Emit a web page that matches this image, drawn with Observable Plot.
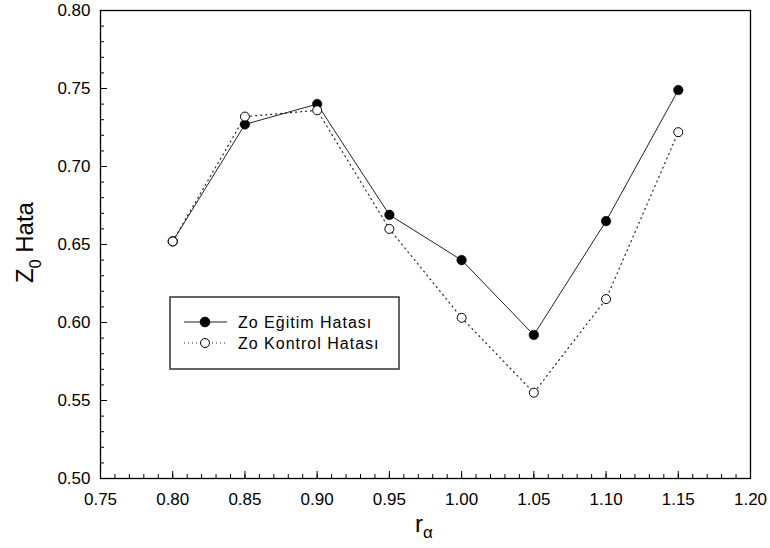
<!DOCTYPE html>
<html>
<head>
<meta charset="utf-8">
<script src="https://cdn.jsdelivr.net/npm/d3@7"></script>
<script src="https://cdn.jsdelivr.net/npm/@observablehq/plot@0.6"></script>
<style>
  body { margin: 0; background: #fff; }
  #chart svg { display: block; }
</style>
</head>
<body>
<div id="chart"></div>
<script>
const rAlpha = [0.80, 0.85, 0.90, 0.95, 1.00, 1.05, 1.10, 1.15];
const egitimHata = [0.652, 0.727, 0.740, 0.669, 0.640, 0.592, 0.665, 0.749];
const kontrolHata = [0.652, 0.732, 0.736, 0.660, 0.603, 0.555, 0.615, 0.722];
const xTicks = [0.75, 0.80, 0.85, 0.90, 0.95, 1.00, 1.05, 1.10, 1.15, 1.20];
const yTicks = [0.50, 0.55, 0.60, 0.65, 0.70, 0.75, 0.80];
const seriesNames = ["Zo Eğitim Hatası", "Zo Kontrol Hatası"];

const egitim = rAlpha.map((x, i) => ({x, y: egitimHata[i]}));
const kontrol = rAlpha.map((x, i) => ({x, y: kontrolHata[i]}));
const xMinor = d3.range(0, 46).map(i => +(0.75 + i * 0.01).toFixed(2));
const yMinor = d3.range(0, 31).map(i => +(0.50 + i * 0.01).toFixed(2));

const svg = Plot.plot({
  width: 770,
  height: 548,
  marginLeft: 100,
  marginRight: 20,
  marginTop: 10,
  marginBottom: 70,
  style: {fontFamily: "'Liberation Sans', Arial, sans-serif", fontSize: "17px", color: "#000", background: "#fff"},
  x: {domain: [0.75, 1.20]},
  y: {domain: [0.50, 0.80]},
  marks: [
    Plot.axisX({ticks: xMinor, tickSize: -4, text: null, label: null, stroke: "#000"}),
    Plot.axisY({ticks: yMinor, tickSize: -4, text: null, label: null, stroke: "#000"}),
    Plot.axisX({ticks: xTicks, tickSize: -7, text: null, label: null, stroke: "#000"}),
    Plot.axisY({ticks: yTicks, tickSize: -7, text: null, label: null, stroke: "#000"}),
    Plot.axisX({ticks: xTicks, tickSize: 0, tickPadding: 14, tickFormat: d3.format(".2f"), label: null, fill: "#000"}),
    Plot.axisY({ticks: yTicks, tickSize: 0, tickPadding: 10, tickFormat: d3.format(".2f"), label: null, fill: "#000"}),
    Plot.frame({stroke: "#000", strokeWidth: 1.3}),
    Plot.line(egitim, {x: "x", y: "y", stroke: "#222", strokeWidth: 1}),
    Plot.line(kontrol, {x: "x", y: "y", stroke: "#222", strokeWidth: 1.2, strokeDasharray: "1,4"}),
    Plot.dot(egitim, {x: "x", y: "y", r: 4.8, fill: "#000", stroke: "#000", strokeWidth: 0.5}),
    Plot.dot(kontrol, {x: "x", y: "y", r: 4.5, fill: "#fff", stroke: "#000", strokeWidth: 1})
  ]
});

document.getElementById("chart").appendChild(svg);
const s = d3.select(svg);
const ff = "'Liberation Sans', Arial, sans-serif";

// Axis titles with subscripts
const yl = s.append("text")
  .attr("transform", "translate(33,283) rotate(-90)")
  .attr("text-anchor", "start")
  .attr("font-family", ff).attr("font-size", 24).attr("fill", "#000");
yl.append("tspan").text("Z");
yl.append("tspan").attr("font-size", 16).attr("dy", 8).text("0");
yl.append("tspan").attr("dy", -8).text(" Hata");

const xl = s.append("text")
  .attr("x", 415).attr("y", 532)
  .attr("text-anchor", "start")
  .attr("font-family", ff).attr("font-size", 24).attr("fill", "#000");
xl.append("tspan").text("r");
xl.append("tspan").attr("font-size", 17).attr("dy", 6).text("α");

// Legend
const lg = s.append("g");
lg.append("rect").attr("x", 170).attr("y", 297).attr("width", 229).attr("height", 72)
  .attr("fill", "#fff").attr("stroke", "#333").attr("stroke-width", 1.5);
const rows = [
  {y: 322, dash: "none", fill: "#000", r: 4.8},
  {y: 343, dash: "1,3", fill: "#fff", r: 4.5}
];
rows.forEach((row, i) => {
  lg.append("path").attr("d", `M184,${row.y}H227`)
    .attr("fill", "none")
    .attr("stroke", "#222").attr("stroke-width", 1.2).attr("stroke-dasharray", row.dash);
  lg.append("circle").attr("cx", 205).attr("cy", row.y).attr("r", row.r)
    .attr("fill", row.fill).attr("stroke", "#000");
  lg.append("text").attr("x", 238).attr("y", row.y + 6)
    .attr("text-anchor", "start")
    .attr("letter-spacing", 1)
    .attr("font-family", ff).attr("font-size", 16).attr("fill", "#000")
    .text(seriesNames[i]);
});
</script>
</body>
</html>
